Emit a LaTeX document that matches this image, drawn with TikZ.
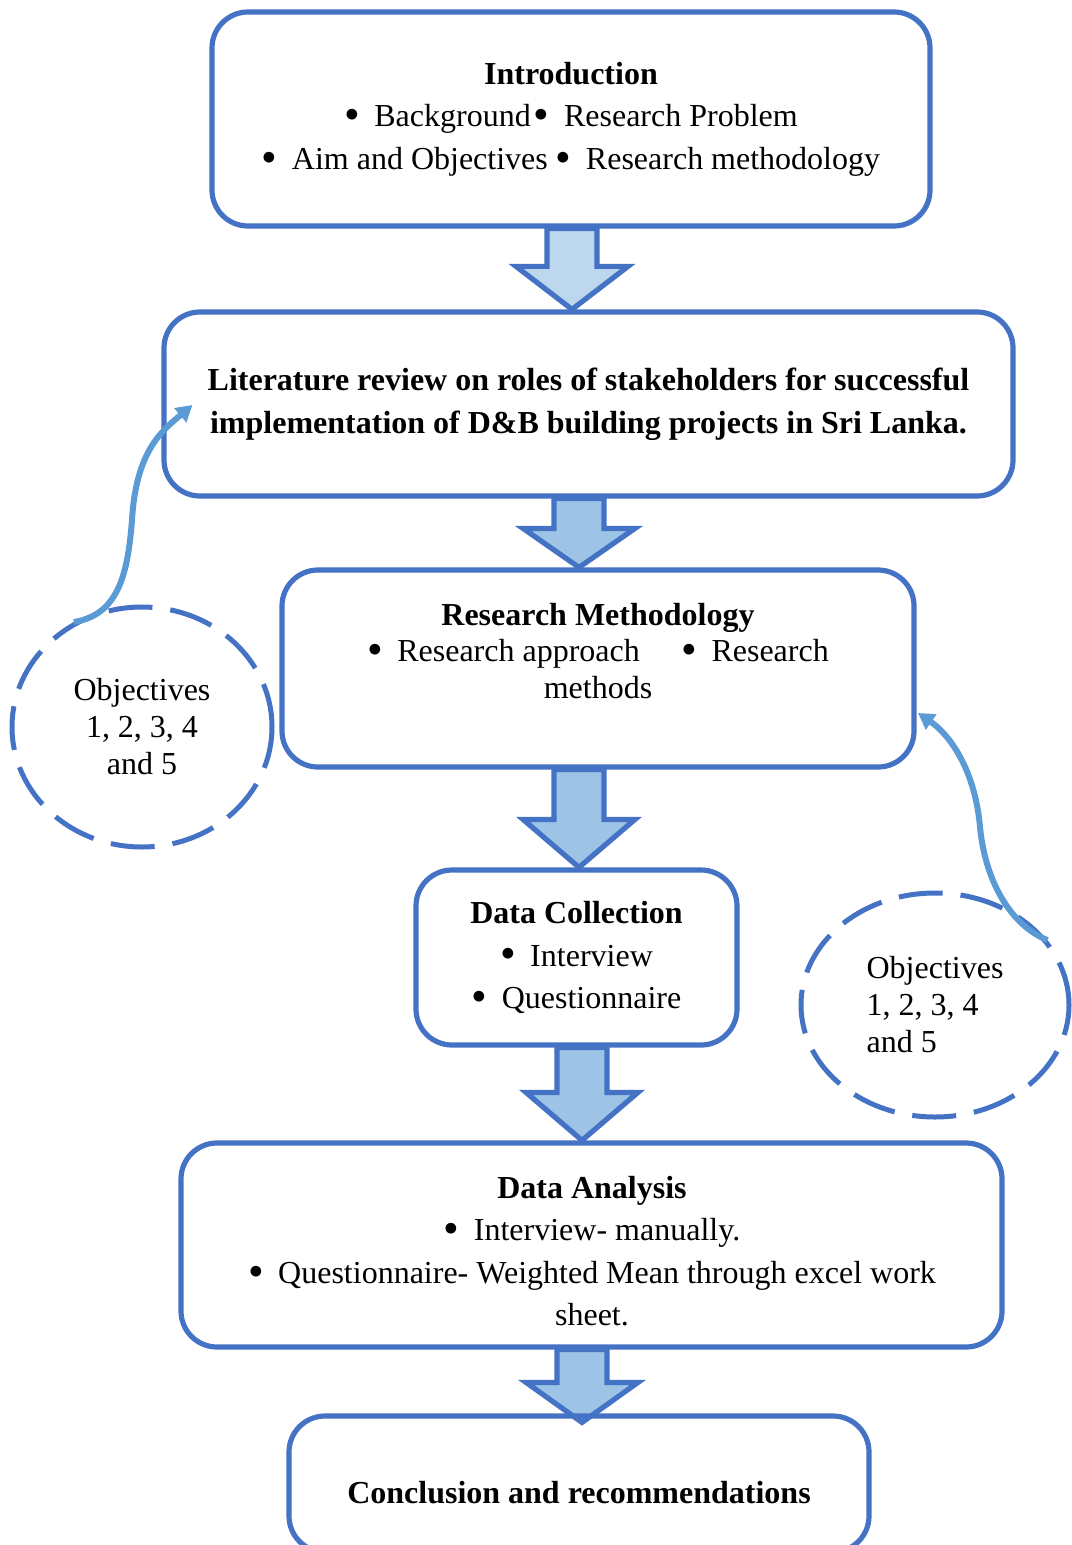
\documentclass[tikz,border=0pt]{standalone}
\usepackage{fontspec}
\setmainfont{Liberation Serif}
\usetikzlibrary{positioning}
\usetikzlibrary{shapes.geometric}
\usetikzlibrary{arrows.meta}
\usetikzlibrary{calc}
\usetikzlibrary{backgrounds}

\definecolor{boxblue}{HTML}{4472C4}
\definecolor{arrowfill}{HTML}{9DC3E6}
\definecolor{arrowpale}{HTML}{BDD7EE}
\definecolor{curveblue}{HTML}{5B9BD5}

% larger list bullet
\newcommand{\itemdot}{\raisebox{-0.09em}{\scalebox{1.4}{\textbullet}}}

% block arrow: [fill]{tail}{tip}{head length}
\newcommand{\flowarrow}[4][arrowfill]{%
  \draw[blockarrow, fill=#1] ($(#2)+(-25,0)$) -- ($(#2)+(25,0)$) -- ($(#3)+(25,-#4)$)
    -- ($(#3)+(56,-#4)$) -- (#3) -- ($(#3)+(-56,-#4)$) -- ($(#3)+(-25,-#4)$) -- cycle;}

\begin{document}
\begin{tikzpicture}[x=0.5pt, y=-0.5pt,
  font=\fontsize{16}{21.25}\selectfont,
  box/.style={draw=boxblue, line width=2.6pt, rounded corners=18pt, inner sep=0pt, align=center},
  blockarrow/.style={draw=boxblue, line width=2.6pt, line join=miter},
  objective/.style={ellipse, draw=boxblue, line width=2.5pt, dash pattern=on 22pt off 9pt,
    inner sep=0pt, font=\fontsize{16}{18.5}\selectfont},
  feedback/.style={draw=curveblue, line width=3pt, -{Triangle[length=8pt,width=9pt]}}]

  \useasboundingbox (0,0) rectangle (1071,1545);

  % Introduction
  \node[box, minimum width=359pt, minimum height=107pt] (intro) at (571,119)
    {\textbf{Introduction}\\
     \itemdot\hspace{0.45em}Background\hspace{0.1em}\itemdot\hspace{0.45em}Research Problem\\
     \itemdot\hspace{0.45em}Aim and Objectives \itemdot\hspace{0.45em}Research methodology};

  % Literature review
  \node[box, minimum width=424.5pt, minimum height=92pt,
    font=\bfseries\fontsize{16}{21.5}\selectfont] (lit) at (588.5,404)
    {Literature review on roles of stakeholders for successful\\
     implementation of D\&B building projects in Sri Lanka.};

  % Research methodology
  \node[box, minimum width=316pt, minimum height=98.5pt] (rm) at (598,668.5) {};
  \node[align=center, font=\fontsize{16}{18.25}\selectfont] (rmtext) at (598,651)
    {\textbf{Research Methodology}\\
     \itemdot\hspace{0.45em}Research approach\hspace{1.3em}\itemdot\hspace{0.45em}Research\\
     methods};

  % Data collection
  \node[box, minimum width=160.5pt, minimum height=87.5pt] (dc) at (576.5,957.5)
    {\textbf{Data Collection}\\
     \itemdot\hspace{0.45em}Interview\\
     \itemdot\hspace{0.45em}Questionnaire};

  % Data analysis
  \node[box, minimum width=410.5pt, minimum height=102pt] (da) at (591.5,1245) {};
  \node[align=center] (datext) at (592,1251)
    {\textbf{Data Analysis}\\
     \itemdot\hspace{0.45em}Interview- manually.\\
     \itemdot\hspace{0.45em}Questionnaire- Weighted Mean through excel work\\
     sheet.};

  % Conclusion
  \node[box, minimum width=290pt, minimum height=68pt] (conc) at (579,1484) {};
  \node[font=\bfseries\fontsize{16}{21.5}\selectfont] (conctext) at (579,1493)
    {Conclusion and recommendations};

  % Objectives
  \node[objective, minimum width=130pt, minimum height=120pt, align=center] (objl) at (142,727)
    {Objectives\\1, 2, 3, 4\\and 5};
  \node[objective, minimum width=134pt, minimum height=112pt, align=left] (objr) at (935,1005)
    {Objectives\\1, 2, 3, 4\\and 5};

  % block arrows
  \begin{scope}[on background layer]
    \coordinate (a1s) at (intro.south -| 572,0);
    \coordinate (a1e) at (lit.north -| 572,0);
    \coordinate (a2s) at (lit.south -| 579,0);
    \coordinate (a2e) at (rm.north -| 579,0);
    \coordinate (a3s) at (rm.south -| 579,0);
    \coordinate (a3e) at (dc.north -| 579,0);
    \coordinate (a4s) at (dc.south -| 582,0);
    \coordinate (a4e) at (da.north -| 582,0);
    \coordinate (a5s) at (da.south -| 582,0);
    \coordinate (a5e) at ($(conc.north -| 582,0)+(0,9)$);
    \flowarrow[arrowpale]{a1s}{a1e}{43}
    \flowarrow{a2s}{a2e}{39}
    \flowarrow{a3s}{a3e}{48}
    \flowarrow{a4s}{a4e}{48}
    \flowarrow{a5s}{a5e}{40}
  \end{scope}

  % feedback arrows
  \coordinate (litin) at ($(lit.west)+(31,1)$);
  \draw[feedback] (objl.123) .. controls (120,615) and (128,570) .. (132,520)
    .. controls (136,450) and (163,430) .. (litin);
  \coordinate (rmin) at (918,713);
  \draw[feedback] (objr.30) .. controls (1010,925) and (985,880) .. (980,827)
    .. controls (975,770) and (950,735) .. (rmin);
\end{tikzpicture}
\end{document}
